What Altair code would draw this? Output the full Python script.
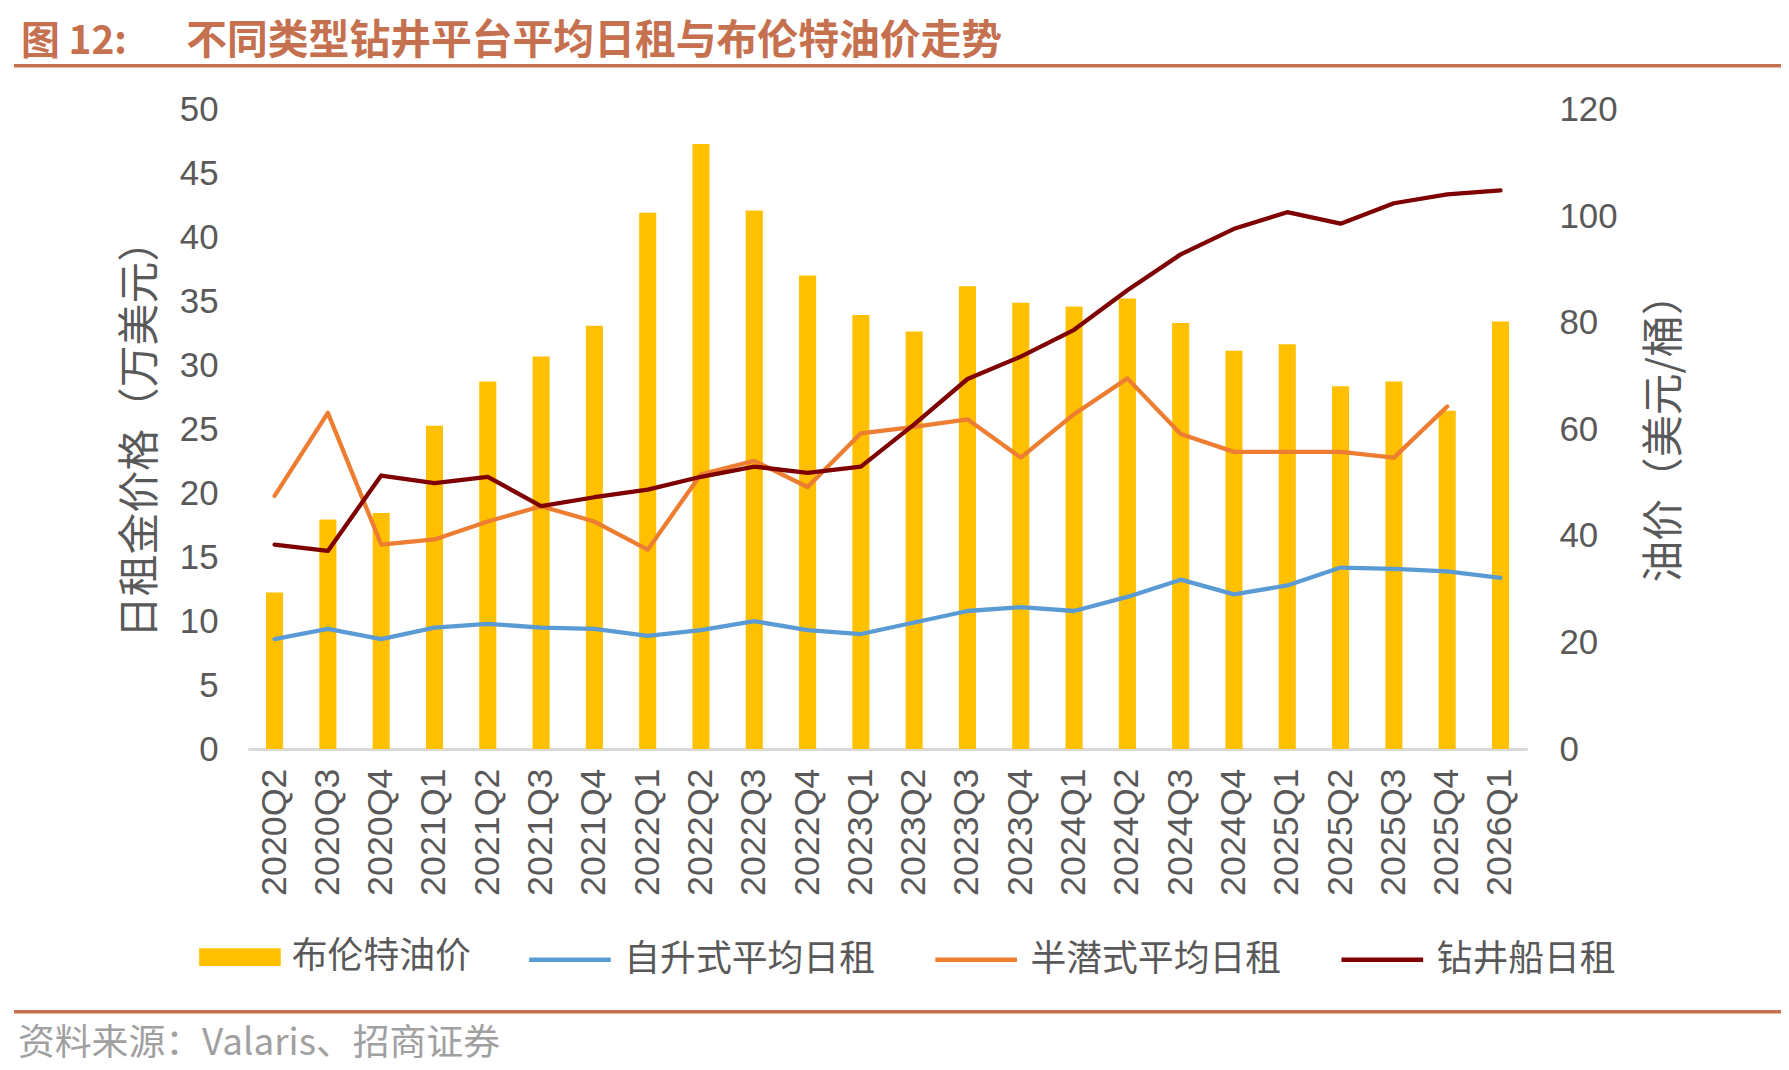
import altair as alt
import pandas as pd

quarters = ["2020Q2", "2020Q3", "2020Q4", "2021Q1", "2021Q2", "2021Q3", "2021Q4",
            "2022Q1", "2022Q2", "2022Q3", "2022Q4", "2023Q1", "2023Q2", "2023Q3",
            "2023Q4", "2024Q1", "2024Q2", "2024Q3", "2024Q4", "2025Q1", "2025Q2",
            "2025Q3", "2025Q4", "2026Q1"]

brent = [29.4, 43.1, 44.3, 60.7, 69.0, 73.7, 79.5, 100.7, 113.6, 101.1, 88.9, 81.5,
         78.4, 86.9, 83.8, 83.1, 84.6, 80.0, 74.8, 76.0, 68.1, 69.0, 63.5, 80.3]

jackup = [8.6, 9.4, 8.6, 9.5, 9.8, 9.5, 9.4, 8.85, 9.3, 10.0, 9.3, 9.0,
          9.9, 10.8, 11.1, 10.8, 11.9, 13.25, 12.1, 12.8, 14.2, 14.1, 13.9, 13.4]

semisub = [19.8, 26.3, 16.0, 16.4, 17.8, 19.0, 17.8, 15.6, 21.5, 22.55, 20.5, 24.7,
           25.2, 25.8, 22.8, 26.2, 29.0, 24.65, 23.25, 23.25, 23.25, 22.8, 26.8, None]

drillship = [16.0, 15.5, 21.4, 20.8, 21.3, 19.0, 19.7, 20.3, 21.3, 22.1, 21.6, 22.1,
             25.4, 28.95, 30.7, 32.8, 35.9, 38.7, 40.7, 42.0, 41.1, 42.7, 43.4, 43.7]

bar_name = "布伦特油价"
line_names = ["自升式平均日租", "半潜式平均日租", "钻井船日租"]
line_colors = ["#5B9BD5", "#ED7D31", "#7F0000"]
bar_color = "#FFC000"

title_prefix = "图 12:"
title_main = "不同类型钻井平台平均日租与布伦特油价走势"
source_text = "资料来源：Valaris、招商证券"
left_title = "日租金价格（万美元）"
right_title = "油价（美元/桶）"

# ---- tables ----
bar_df = pd.DataFrame({"季度": quarters, "值": brent, "名称": [bar_name] * len(quarters)})
rows = []
for name, series in zip(line_names, [jackup, semisub, drillship]):
    for q, v in zip(quarters, series):
        if v is not None:
            rows.append({"季度": q, "值": v, "名称": name})
line_df = pd.DataFrame(rows)

GRAY = "#595959"
ACCENT = "#C5704F"
CJK = "Noto Sans CJK SC"
LAT = "Liberation Sans"

xscale = alt.Scale(paddingInner=0.68, paddingOuter=0.34)
xaxis = alt.Axis(labelAngle=270, labelFont=LAT, labelFontSize=36, labelColor=GRAY,
                 labelPadding=19, domainColor="#D9D9D9", domainWidth=3, ticks=False,
                 grid=False, title=None, labelOverlap=False)

bars = alt.Chart(bar_df).mark_bar().encode(
    x=alt.X("季度:O", sort=quarters, scale=xscale, axis=xaxis),
    y=alt.Y("值:Q", scale=alt.Scale(domain=[0, 120], nice=False),
            axis=alt.Axis(orient="right", values=list(range(0, 121, 20)), grid=False,
                          domain=False, ticks=False, labelPadding=32, labelFont=LAT,
                          labelFontSize=35, labelColor=GRAY, title=right_title,
                          titleFont=CJK, titleFontSize=42, titleColor=GRAY,
                          titleFontWeight="normal", titleAngle=270, titleX=138,
                          titleY=319, titleAlign="center", titleBaseline="middle")),
    color=alt.Color("名称:N", scale=alt.Scale(domain=[bar_name], range=[bar_color]),
                    legend=alt.Legend(title=None, orient="none", legendX=-49, legendY=810,
                                      direction="horizontal",
                                      symbolType="M-1,-0.22H1V0.22H-1Z", symbolSize=6724,
                                      symbolStrokeWidth=0, symbolOpacity=1,
                                      labelFont=CJK, labelFontSize=36, labelColor=GRAY,
                                      labelOffset=11, labelLimit=600, padding=0)),
)

lines = alt.Chart(line_df).mark_line(strokeWidth=4.3, strokeJoin="round", strokeCap="round").encode(
    x=alt.X("季度:O", sort=quarters, scale=xscale, axis=xaxis),
    y=alt.Y("值:Q", scale=alt.Scale(domain=[0, 50], nice=False),
            axis=alt.Axis(orient="left", values=list(range(0, 51, 5)), grid=False,
                          domain=False, ticks=False, labelPadding=30, labelFont=LAT,
                          labelFontSize=35, labelColor=GRAY, title=left_title,
                          titleFont=CJK, titleFontSize=42, titleColor=GRAY,
                          titleFontWeight="normal", titleAngle=270, titleX=-108,
                          titleY=320, titleAlign="center", titleBaseline="middle")),
    color=alt.Color("名称:N", sort=line_names,
                    scale=alt.Scale(domain=line_names, range=line_colors),
                    legend=alt.Legend(title=None, orient="none", legendX=280, legendY=810,
                                      direction="horizontal", symbolType="stroke",
                                      symbolSize=6724, symbolStrokeWidth=4.5,
                                      labelFont=CJK, labelFontSize=36, labelColor=GRAY,
                                      labelOffset=11, columnPadding=50, labelLimit=600,
                                      padding=0)),
)

one = pd.DataFrame({"t": [""]})

t_prefix = alt.Chart(pd.DataFrame({"t": [title_prefix]})).mark_text(
    align="left", baseline="middle", font=CJK, fontSize=39, fontWeight="bold", color=ACCENT
).encode(text="t:N", x=alt.value(-228), y=alt.value(-68))

t_main = alt.Chart(pd.DataFrame({"t": [title_main]})).mark_text(
    align="left", baseline="middle", font=CJK, fontSize=41, fontWeight="bold", color=ACCENT
).encode(text="t:N", x=alt.value(-62), y=alt.value(-68))

rule_top = alt.Chart(one).mark_rule(color=ACCENT, strokeWidth=3.5).encode(
    x=alt.value(-235), x2=alt.value(1545), y=alt.value(-44.5))
rule_bottom = alt.Chart(one).mark_rule(color=ACCENT, strokeWidth=3.5).encode(
    x=alt.value(-235), x2=alt.value(1545), y=alt.value(906))

src = alt.Chart(pd.DataFrame({"t": [source_text]})).mark_text(
    align="left", baseline="middle", font=CJK, fontSize=37, color="#A0A0A0"
).encode(text="t:N", x=alt.value(-231), y=alt.value(938))

chart = alt.layer(bars, lines, t_prefix, t_main, rule_top, rule_bottom, src).resolve_scale(
    y="independent", color="independent"
).resolve_legend(color="independent").properties(
    width=1285, height=642,
    autosize=alt.AutoSizeParams(type="none"),
    padding={"left": 241, "top": 100, "right": 255, "bottom": 320},
).configure(background="white").configure_view(strokeWidth=0)

chart.save("out.html", embed_options={"renderer": "svg", "actions": False})
